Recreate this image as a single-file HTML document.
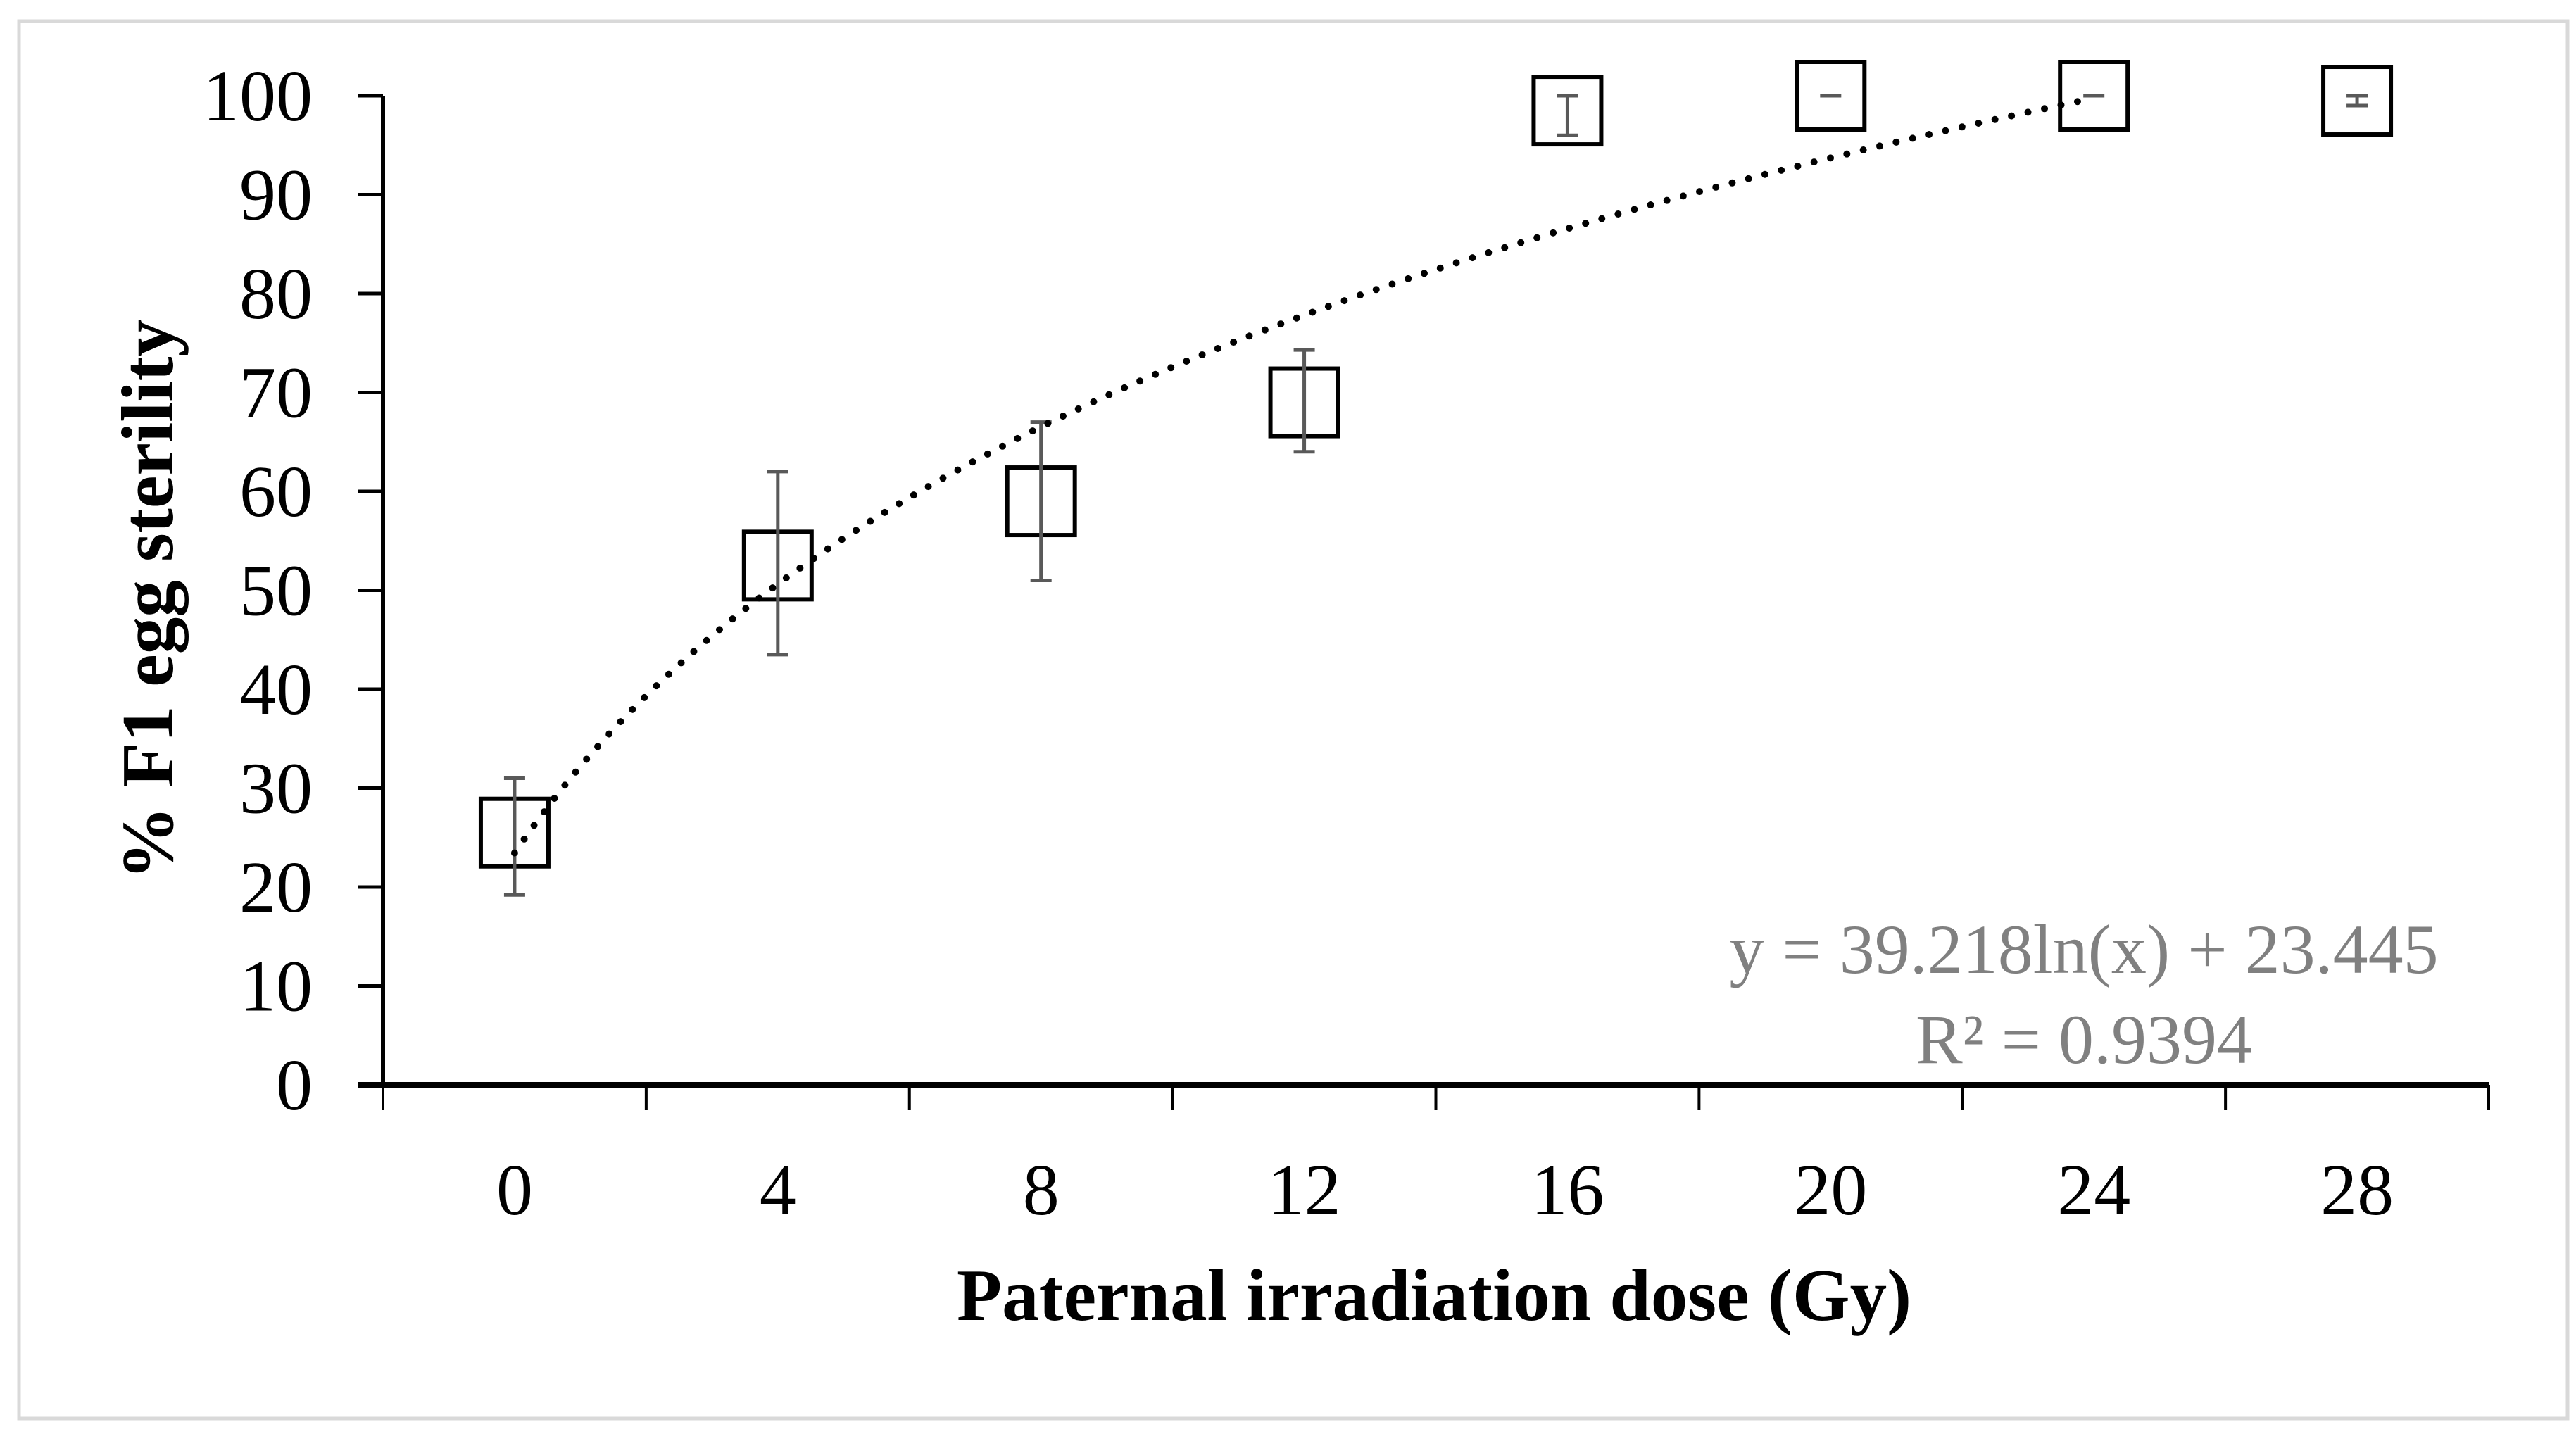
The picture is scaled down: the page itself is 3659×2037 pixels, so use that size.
<!DOCTYPE html>
<html><head><meta charset="utf-8"><style>
html,body{margin:0;padding:0;background:#fff;}
svg{display:block;font-family:"Liberation Serif",serif;}
</style></head><body>
<svg id="chart" width="3659" height="2037" viewBox="0 0 3659 2037" xmlns="http://www.w3.org/2000/svg">
<rect x="27" y="30" width="3620" height="1985" fill="#fff" stroke="#d9d9d9" stroke-width="5"/>
<g id="grid"></g>
<g id="marks"></g>
<text x="2960" y="1382" font-size="100" fill="#808080" text-anchor="middle">y = 39.218ln(x) + 23.445</text>
<text x="2960" y="1510" font-size="100" fill="#808080" text-anchor="middle">R² = 0.9394</text>
<text x="2037" y="1875" font-size="105" font-weight="bold" text-anchor="middle">Paternal irradiation dose (Gy)</text>
<text x="0" y="0" font-size="105" font-weight="bold" text-anchor="middle" transform="translate(245,852) rotate(-90)">% F1 egg sterility</text>
</svg>
<script>
const categories = ["0","4","8","12","16","20","24","28"];
const meanValues = [25.5, 52.5, 59, 69, 98.5, 100, 100, 99.5];
const errLow = [19.2, 43.5, 51, 64, 96, 100, 100, 99];
const errHigh = [31, 62, 67, 74.3, 100, 100, 100, 100];
const yTicks = [0,10,20,30,40,50,60,70,80,90,100];
const trendA = 39.218;
const trendB = 23.445;

const NS = "http://www.w3.org/2000/svg";
const x0 = 544, x1 = 3535, yBase = 1541, yTop = 136;
const band = (x1 - x0) / categories.length;
const xPos = i => x0 + band * (i + 0.5);
const yPos = v => yBase - (v / 100) * (yBase - yTop);
const g = document.getElementById("grid");
const m = document.getElementById("marks");
function mk(tag, attrs, parent){const e=document.createElementNS(NS,tag);for(const k in attrs)e.setAttribute(k,attrs[k]);parent.appendChild(e);return e;}

let ya = mk("line",{x1:x0,y1:yTop,x2:x0,y2:yBase,stroke:"#000","stroke-width":6},g);


let xa = mk("line",{x1:x0-35,y1:yBase,x2:x1,y2:yBase,stroke:"#000","stroke-width":8},g);



yTicks.forEach(v=>{
  const y=yPos(v);
  const t=mk("line",{x1:x0-35,y1:y,x2:x0,y2:y,stroke:"#000","stroke-width":5},g);
  
  
  const l=mk("text",{x:x0-100,y:y+35,"font-size":104,"text-anchor":"end"},g);
  l.textContent=v;
  
  
});
for(let i=0;i<=categories.length;i++){
  const x=x0+band*i;
  const t=mk("line",{x1:x,y1:yBase,x2:x,y2:yBase+36,stroke:"#000","stroke-width":4},g);
  
  
}
categories.forEach((c,i)=>{
  const l=mk("text",{x:xPos(i),y:1725,"font-size":104,"text-anchor":"middle"},g);
  l.textContent=c;
  
  
});

const half = 48;
meanValues.forEach((v,i)=>{
  const x=xPos(i), y=yPos(v);
  const r=mk("rect",{x:x-half,y:y-half,width:half*2,height:half*2,fill:"#fff",stroke:"#000","stroke-width":6},m);
  
  
});
meanValues.forEach((v,i)=>{
  const x=xPos(i), yl=yPos(errLow[i]), yh=yPos(errHigh[i]);
  const e=mk("path",{d:`M${x},${yl}V${yh}M${x-15},${yl}H${x+15}M${x-15},${yh}H${x+15}`,stroke:"#595959","stroke-width":5,fill:"none"},m);
  
  
});
let d="";
for(let k=0;k<=120;k++){
  const xi=1+6*k/120;
  const v=trendA*Math.log(xi)+trendB;
  d+=(k?"L":"M")+xPos(xi-1).toFixed(1)+","+yPos(v).toFixed(1);
}
const tl=mk("path",{d:d,stroke:"#000","stroke-width":10,fill:"none","stroke-linecap":"round","stroke-dasharray":"0 24"},m);


</script>
</body></html>
